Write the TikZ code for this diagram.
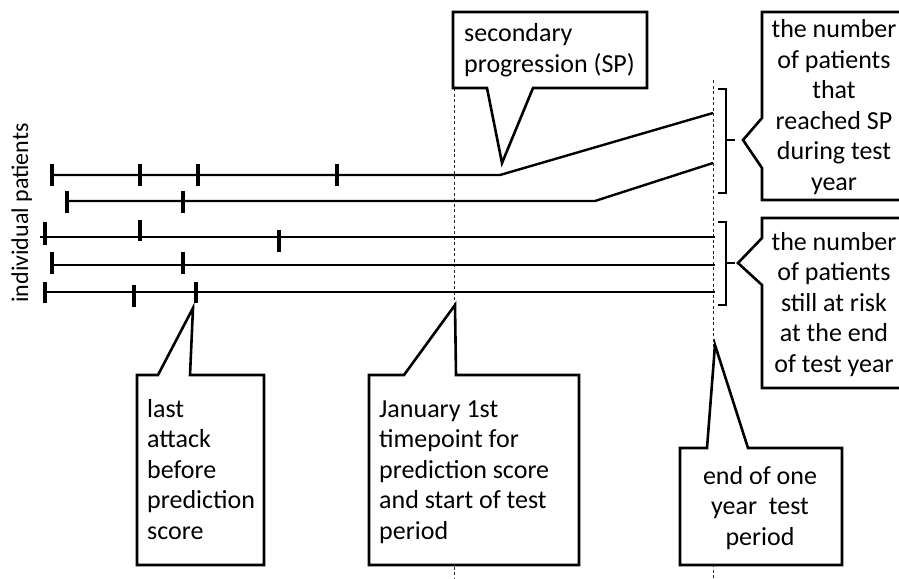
\documentclass[tikz,border=0pt]{standalone}
\usepackage{fontspec}
\setmainfont{Carlito}
\begin{document}
\begin{tikzpicture}[x=1pt,y=-1pt,
  callout/.style={line width=2.6pt, line join=miter, fill=white, draw=black},
  pline/.style={line width=2.4pt, line join=miter},
  thinline/.style={line width=2pt},
  tickmark/.style={line width=3.4pt},
  guide/.style={line width=0.9pt, dash pattern=on 3pt off 2.5pt, black!85},
  brk/.style={line width=2pt, line join=miter},
  lbl/.style={inner sep=0pt, font=\fontsize{26}{30.5}\selectfont, anchor=base west, align=left},
  clbl/.style={inner sep=0pt, font=\fontsize{26}{30.5}\selectfont, anchor=base, align=center}
]
\useasboundingbox (0,0) rectangle (899,578);

% guide (dashed) lines
\coordinate (g1t) at (454,88);  \coordinate (g1b) at (454,578);
\coordinate (g2t) at (713,80);  \coordinate (g2b) at (713,578);
\draw[guide] (g1t) -- (g1b);
\draw[guide] (g2t) -- (g2b);

% patient lines
\coordinate (p1s) at (52,175); \coordinate (p1k) at (500,175); \coordinate (p1e) at (713,113);
\coordinate (p2s) at (67,201); \coordinate (p2k) at (595,201); \coordinate (p2e) at (713,163);
\coordinate (p3s) at (40,237); \coordinate (p3e) at (715,237);
\coordinate (p4s) at (52,265); \coordinate (p4e) at (715,265);
\coordinate (p5s) at (45,292); \coordinate (p5e) at (715,292);
\draw[pline] (p1s) -- (p1k) -- (p1e);
\draw[pline] (p2s) -- (p2k) -- (p2e);
\draw[thinline] (p3s) -- (p3e);
\draw[thinline] (p4s) -- (p4e);
\draw[thinline] (p5s) -- (p5e);

% attack ticks
\foreach \x in {52,140,198,337} \draw[tickmark] (\x,164) -- (\x,186);
\foreach \x in {67,183} \draw[tickmark] (\x,191) -- (\x,213);
\draw[tickmark] (45,222) -- (45,245);
\draw[tickmark] (140,220) -- (140,241);
\draw[tickmark] (279,230) -- (279,252);
\foreach \x in {52,183} \draw[tickmark] (\x,252) -- (\x,274);
\draw[tickmark] (45,282) -- (45,303);
\draw[tickmark] (134,285) -- (134,307);
\draw[tickmark] (196,282) -- (196,303);

% brackets
\draw[brk] (718,89) -- (726,89) -- (726,193) -- (718,193);
\draw[brk] (726,140) -- (735,140);
\draw[brk] (718,222) -- (726,222) -- (726,305) -- (718,305);
\draw[brk] (726,263) -- (735,263);

% callouts
\draw[callout] (453,12) -- (647,12) -- (647,88) -- (533,88) -- (502,163) -- (487,88) -- (453,88) -- cycle;
\draw[callout] (902,12) -- (762,12) -- (762,118) -- (743,140) -- (762,168) -- (762,200) -- (902,200);
\draw[callout] (902,218) -- (762,218) -- (762,238) -- (738,263) -- (762,285) -- (762,388) -- (902,388);
\draw[callout] (137,375) -- (158,375) -- (193,308) -- (190,375) -- (264,375) -- (264,565) -- (137,565) -- cycle;
\draw[callout] (369,375) -- (404,375) -- (455,305) -- (456,375) -- (579,375) -- (579,565) -- (369,565) -- cycle;
\draw[callout] (680,448) -- (707,448) -- (715,345) -- (748,448) -- (842,448) -- (842,565) -- (680,565) -- cycle;

% texts (base anchor = baseline of the last line)
\node[lbl] (sp) at (464,72) {secondary\\progression (SP)};
\node[clbl] (reached) at (834,190) {the number\\of patients\\that\\reached SP\\during test\\year};
\node[clbl] (atrisk) at (834,372) {the number\\of patients\\still at risk\\at the end\\of test year};
\node[lbl] (lastatt) at (147,539) {last\\attack\\before\\prediction\\score};
\node[lbl] (jan) at (379,539) {January 1st\\timepoint for\\prediction score\\and start of test\\period};
\node[clbl] (endyear) at (760,545) {end of one\\year\ \ test\\period};
\node[rotate=90, inner sep=0pt, anchor=base, font=\fontsize{24}{28}\selectfont] (indiv) at (28,213) {individual patients};
\end{tikzpicture}
\end{document}
